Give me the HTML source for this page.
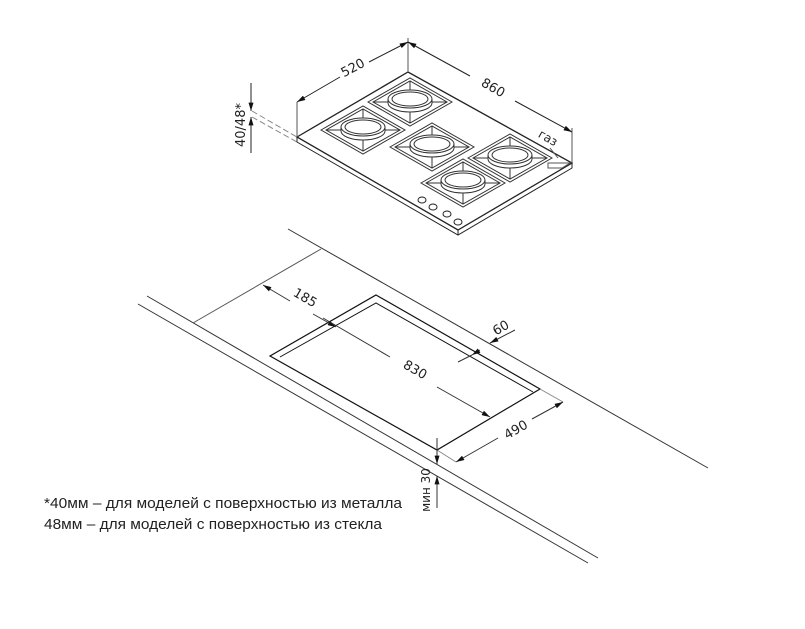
<!DOCTYPE html>
<html><head><meta charset="utf-8"><style>
html,body{margin:0;padding:0;background:#fff}
svg{display:block}
text{font-family:"DejaVu Sans","Liberation Sans",sans-serif;fill:#222}
</style></head><body>
<svg width="805" height="629" viewBox="0 0 805 629" xmlns="http://www.w3.org/2000/svg">
<defs>
<marker id="a" viewBox="0 0 10 6" refX="10" refY="3" markerWidth="9" markerHeight="5" orient="auto-start-reverse" markerUnits="userSpaceOnUse"><path d="M0,0 L10,3 L0,6z" fill="#111"/></marker>
<g id="gr" fill="none" stroke="#333" stroke-width="1">
<path d="M-42,0 L0,-24 L42,0 L0,24z"/>
<path d="M-37,0 L0,-21 L37,0 L0,21z"/>
<path d="M-37,0 H-22 M37,0 H22 M0,-21 V-12 M0,21 V10" />
<ellipse cx="0" cy="-3" rx="22" ry="9" fill="#fff"/>
<path d="M-22,-3 V1 A22,9 0 0 0 22,1 V-3"/>
<ellipse cx="0" cy="-3" rx="18" ry="7"/>
</g>
</defs>
<g fill="none" stroke="#222" stroke-width="1">
<path d="M297,137 L408,72 L572,163 L458,230 Z" stroke-width="1.3"/>
<path d="M297,137 V142 L458,235 L572,168 V163 M458,230 V235"/>
<path d="M297,137 V102 M408,72 V38 M572,163 V128" stroke="#555"/>
<line x1="297" y1="102" x2="340" y2="77" marker-start="url(#a)"/>
<line x1="369" y1="62" x2="408" y2="42" marker-end="url(#a)"/>
<line x1="408" y1="42" x2="470" y2="76" marker-start="url(#a)"/>
<line x1="515" y1="101" x2="572" y2="132" marker-end="url(#a)"/>
<line x1="251" y1="83" x2="251" y2="111" marker-end="url(#a)"/>
<line x1="251" y1="153" x2="251" y2="117" marker-end="url(#a)"/>
<path d="M252,111 L297,137 M252,117 L297,142" stroke="#888" stroke-dasharray="6,3"/>
<path d="M550,148 L558,158 M548,163 L570,163 L562,168 L548,168 Z" stroke="#555"/>
<g fill="#fff">
<ellipse cx="422" cy="200" rx="4" ry="3"/><ellipse cx="433" cy="207" rx="4" ry="3"/><ellipse cx="447" cy="214" rx="4" ry="3"/><ellipse cx="458" cy="222" rx="4" ry="3"/>
</g>
</g>
<use href="#gr" x="410" y="102"/>
<use href="#gr" x="363" y="130"/>
<use href="#gr" x="432" y="147"/>
<use href="#gr" x="510" y="158"/>
<use href="#gr" x="463" y="183"/>
<text x="353" y="72" font-size="13" text-anchor="middle" transform="rotate(-28 353 68)">520</text>
<text x="493" y="92" font-size="13" text-anchor="middle" transform="rotate(30 493 88)">860</text>
<text x="548" y="142" font-size="12" text-anchor="middle" transform="rotate(30 548 138)">газ</text>
<text x="240" y="130" font-size="13" text-anchor="middle" transform="rotate(-90 240 125)">40/48*</text>

<g fill="none" stroke="#333" stroke-width="1">
<line x1="288" y1="229" x2="708" y2="468"/>
<line x1="147" y1="296" x2="598" y2="558"/>
<line x1="138" y1="304" x2="588" y2="563"/>
<line x1="193" y1="323" x2="321" y2="249" stroke="#555"/>
<path d="M376,295 L540,389 L437,450 L270,356 Z" stroke="#111" stroke-width="1.2"/>
<path d="M280,357 L376,303 L533,392" stroke="#111"/>
<line x1="263" y1="285" x2="290" y2="301" marker-start="url(#a)"/>
<line x1="313" y1="314" x2="336" y2="327" marker-end="url(#a)"/>
<line x1="323" y1="318" x2="390" y2="357" />
<line x1="437" y1="387" x2="490" y2="417" marker-end="url(#a)"/>
<line x1="458" y1="362" x2="472" y2="355" />
<line x1="472" y1="355" x2="480" y2="350" marker-start="url(#a)" />
<line x1="490" y1="343" x2="515" y2="330" marker-start="url(#a)" />
<path d="M437,450 L456,462 M540,389 L563,402" stroke="#888"/>
<line x1="456" y1="462" x2="498" y2="438" marker-start="url(#a)"/>
<line x1="532" y1="419" x2="563" y2="402" marker-end="url(#a)"/>
<line x1="437" y1="438" x2="437" y2="464" marker-end="url(#a)"/>
<line x1="437" y1="508" x2="437" y2="476" marker-end="url(#a)"/>
</g>
<text x="305" y="302" font-size="13" text-anchor="middle" transform="rotate(30 305 298)">185</text>
<text x="415" y="374" font-size="13" text-anchor="middle" transform="rotate(30 415 370)">830</text>
<text x="501" y="332" font-size="13" text-anchor="middle" transform="rotate(-30 501 328)">60</text>
<text x="516" y="434" font-size="13" text-anchor="middle" transform="rotate(-30 516 430)">490</text>
<text x="426" y="494" font-size="12" text-anchor="middle" transform="rotate(-90 426 490)">мин 30</text>

<text x="44" y="508" font-size="14.5" textLength="358" lengthAdjust="spacingAndGlyphs" style="font-family:'Liberation Sans',sans-serif">*40мм – для моделей  с поверхностью  из металла</text>
<text x="44" y="529" font-size="14.5" textLength="338" lengthAdjust="spacingAndGlyphs" style="font-family:'Liberation Sans',sans-serif">48мм – для моделей  с поверхностью  из стекла</text>
</svg>
</body></html>
